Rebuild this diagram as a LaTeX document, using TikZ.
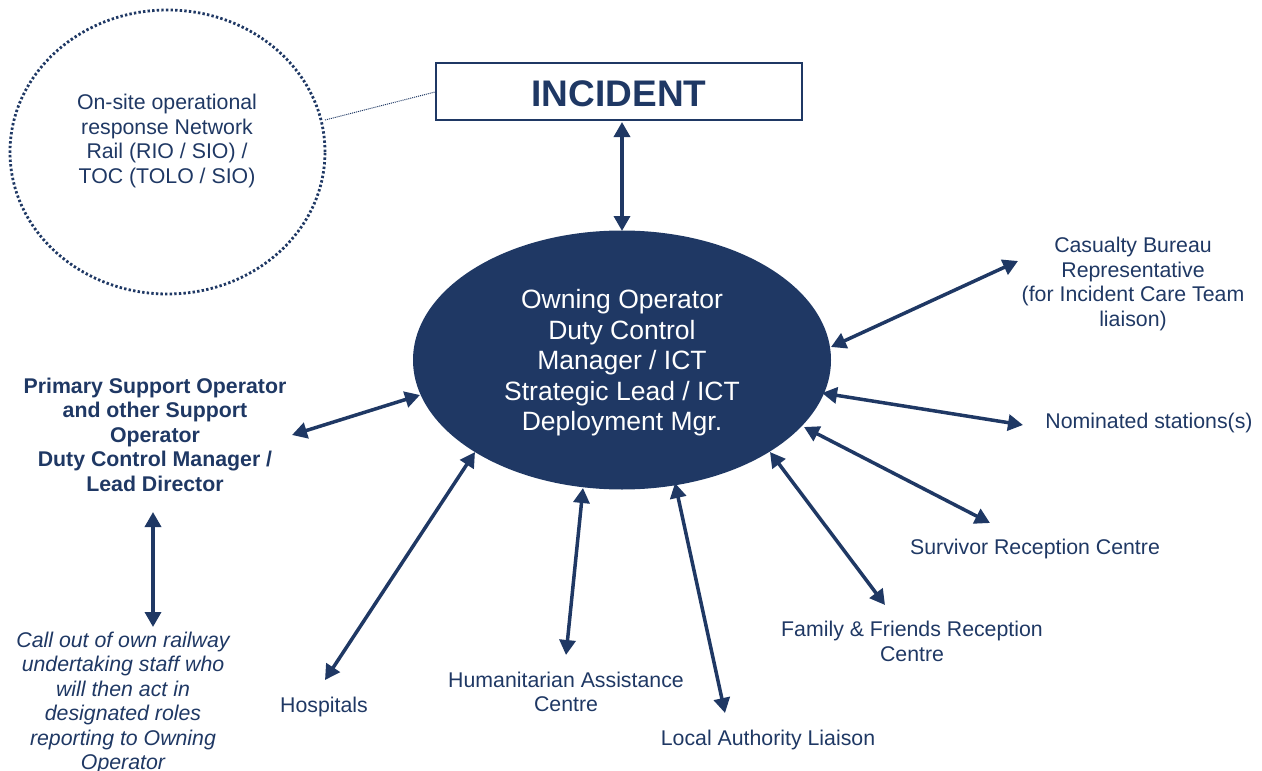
\documentclass[tikz,border=0pt]{standalone}
\usepackage{fontspec}
\setmainfont{Liberation Sans}
\usetikzlibrary{arrows.meta,shapes.geometric}
\definecolor{navy}{RGB}{31,56,100}

\begin{document}
\begin{tikzpicture}[x=1pt,y=-1pt,
  every node/.style={text=navy, align=center, inner sep=0pt},
  lbl/.style={font=\fontsize{21.3}{24.5}\selectfont},
  link/.style={draw=navy, line width=3.5pt,
    {Triangle[length=15pt,width=16pt]}-{Triangle[length=15pt,width=16pt]}},
]
\useasboundingbox (0,0) rectangle (1262,771);

% central nodes
\node[draw=navy, line width=2.5pt, minimum width=366pt, minimum height=57pt,
      text height=30.5pt, text depth=0pt,
      font=\bfseries\fontsize{37}{44}\selectfont] (inc) at (619,91.5) {INCIDENT};
\node[ellipse, fill=navy, minimum width=418pt, minimum height=259pt] (hub) at (622,360) {};
\node[text=white, font=\fontsize{26.5}{30.5}\selectfont] (hubtxt) at (622,363)
  {Owning Operator\\Duty Control\\Manager / ICT\\Strategic Lead / ICT\\Deployment Mgr.};

% on-site response circle
\node[ellipse, draw=navy, line width=2.8pt, dash pattern=on 2.4pt off 2.2pt,
      minimum width=315pt, minimum height=284pt] (site) at (167.5,152) {};
\node[lbl] (sitetxt) at (167,141)
  {On-site operational\\response Network\\Rail (RIO / SIO) /\\TOC (TOLO / SIO)};

% surrounding parties
\node[lbl, font=\bfseries\fontsize{21.3}{24.5}\selectfont] (support) at (155,434.5)
  {Primary Support Operator\\and other Support\\Operator\\Duty Control Manager /\\Lead Director};
\node[lbl, font=\itshape\fontsize{21.3}{24.5}\selectfont] (callout) at (123,703)
  {Call out of own railway\\undertaking staff who\\will then act in\\designated roles\\reporting to Owning\\Operator};
\node[lbl] (hosp) at (324,707) {Hospitals};
\node[lbl] (hac) at (566,692) {Humanitarian Assistance\\Centre};
\node[lbl] (la) at (768,740) {Local Authority Liaison};
\node[lbl] (ffrc) at (912,641.5) {Family \& Friends Reception\\Centre};
\node[lbl] (src) at (1035,549) {Survivor Reception Centre};
\node[lbl] (nom) at (1149,423) {Nominated stations(s)};
\node[lbl] (cas) at (1133,284) {Casualty Bureau\\Representative\\(for Incident Care Team\\liaison)};

% connector end points
\coordinate (incA) at (622,122);  \coordinate (hubA) at (622,231);
\coordinate (hubB) at (831,347);  \coordinate (casB) at (1018,261);
\coordinate (hubC) at (822,393);  \coordinate (nomC) at (1023,425);
\coordinate (hubD) at (804,427);  \coordinate (srcD) at (990,523);
\coordinate (hubE) at (770,452);  \coordinate (ffrcE) at (885,605);
\coordinate (hubF) at (675,483);  \coordinate (laF) at (725,713);
\coordinate (hubG) at (583,488);  \coordinate (hacG) at (566,655);
\coordinate (hubH) at (475,452);  \coordinate (hospH) at (325,680);
\coordinate (hubI) at (420,395);  \coordinate (supI) at (292,435);
\coordinate (supJ) at (153,512);  \coordinate (callJ) at (153,627);
\coordinate (siteK) at (325,120); \coordinate (incK) at (435,92);

% connectors
\draw[navy, line width=1pt, dash pattern=on 1pt off 1pt] (siteK) -- (incK);
\draw[link] (incA) -- (hubA);
\draw[link] (hubB) -- (casB);
\draw[link] (hubC) -- (nomC);
\draw[link] (hubD) -- (srcD);
\draw[link] (hubE) -- (ffrcE);
\draw[link] (hubF) -- (laF);
\draw[link] (hubG) -- (hacG);
\draw[link] (hubH) -- (hospH);
\draw[link] (hubI) -- (supI);
\draw[link] (supJ) -- (callJ);
\end{tikzpicture}
\end{document}
